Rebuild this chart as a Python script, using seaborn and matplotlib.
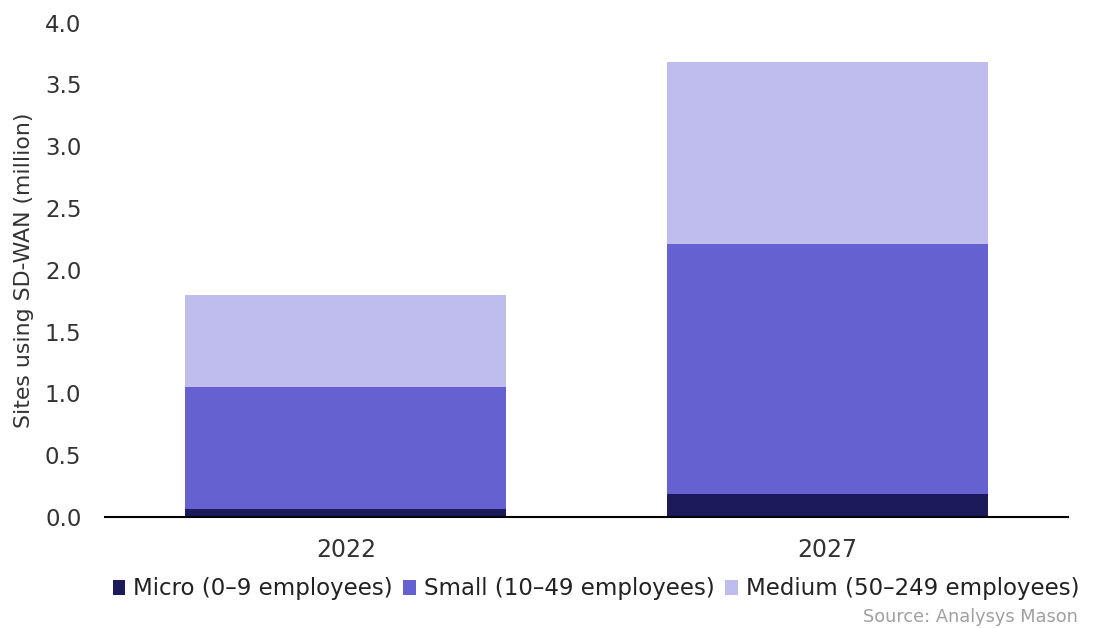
import matplotlib
matplotlib.use("Agg")
import matplotlib.pyplot as plt
import seaborn as sns
import pandas as pd
import numpy as np
from matplotlib.patches import Patch

years = ["2022", "2027"]
micro = [0.065, 0.19]
small = [0.99, 2.02]
medium = [0.74, 1.47]
series_names = ["Micro (0–9 employees)", "Small (10–49 employees)", "Medium (50–249 employees)"]
colors = ["#1c1a5a", "#6661d1", "#bfbdee"]

sns.set_theme(style="white")
plt.rcParams['font.family'] = ['DejaVu Sans']

fig = plt.figure(figsize=(10.94, 6.28), dpi=100)
ax = fig.add_axes([105/1094, 1 - 517/628, 963/1094, (517-22.7)/628])

cum1 = np.array(micro)
cum2 = cum1 + np.array(small)
cum3 = cum2 + np.array(medium)

for vals, col in [(cum3, colors[2]), (cum2, colors[1]), (cum1, colors[0])]:
    df = pd.DataFrame({"year": years, "value": vals})
    sns.barplot(data=df, x="year", y="value", color=col, saturation=1,
                width=0.666, ax=ax, linewidth=0, edgecolor="none")

ax.set_ylim(0, 4.0)
ax.set_xlim(-0.5, 1.5)
ax.set_yticks(np.arange(0, 4.01, 0.5))
ax.set_yticklabels([f"{v:.1f}" for v in np.arange(0, 4.01, 0.5)])
ax.set_xlabel("")
ax.set_ylabel("Sites using SD-WAN (million)", fontsize=15.8, color="#333333", labelpad=8)
ax.tick_params(axis="y", length=0, labelsize=16.5, labelcolor="#333333", pad=17)
ax.tick_params(axis="x", length=0, labelsize=17, labelcolor="#333333", pad=15)
for s in ["top", "right", "left"]:
    ax.spines[s].set_visible(False)
ax.spines["bottom"].set_color("black")
ax.spines["bottom"].set_linewidth(1.5)

handles = [Patch(facecolor=c, edgecolor="none") for c in colors]
fig.legend(handles, series_names, loc="center", bbox_to_anchor=(596/1094, 1 - 589/628),
           ncol=3, frameon=False, fontsize=16.5, handlelength=0.55, handleheight=0.6,
           handletextpad=0.35, columnspacing=0.45, labelcolor="#222222")

fig.text(1078/1094, 1 - 617/628, "Source: Analysys Mason", ha="right", va="center",
         fontsize=12.8, color="#a0a0a0")

fig.savefig("out.png", dpi=100)
